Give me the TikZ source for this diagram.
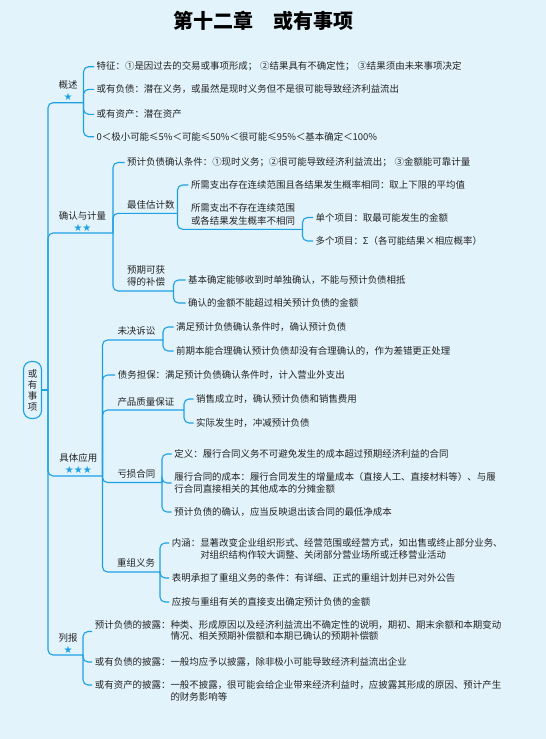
\documentclass[tikz,border=0pt]{standalone}
\usepackage{fontspec}
\setmainfont{Noto Sans CJK SC}
\newfontfamily\symfont{DejaVu Sans}
\usetikzlibrary{calc}
\definecolor{bgblue}{RGB}{226,243,251}
\definecolor{branch}{RGB}{30,160,228}
\definecolor{ink}{RGB}{35,35,35}
\newcommand{\gap}{\hspace{0.3em}}
\tikzset{
  leaf/.style={anchor=west, inner xsep=2.5pt, inner ysep=1pt, text=ink, align=left,
    font=\fontsize{9.45}{11.5}\selectfont},
  topic/.style={inner sep=1pt, text=ink, align=left, font=\fontsize{9.45}{12.5}\selectfont},
  starmark/.style={inner sep=0pt, text=branch, font=\symfont\fontsize{10}{10}\selectfont},
  link/.style={draw=branch, line width=1.1pt, rounded corners=5pt},
}

\begin{document}
\begin{tikzpicture}[x=1pt, y=-1pt]
    \useasboundingbox (0,0) rectangle (546,739);
    \fill[bgblue] (0,0) rectangle (546,739);

    % title
    \node[font=\fontsize{20}{20}\selectfont\bfseries, text=black] (title) at (263,21) {第十二章　或有事项};

    % root
    \node[draw=branch, line width=1.1pt, rounded corners=8pt, fill=bgblue, inner sep=0pt,
      minimum width=18pt, minimum height=57pt, text=ink, align=center,
      font=\fontsize{9.45}{11}\selectfont] (root) at (32.5,390) {或\\有\\事\\项};
    \coordinate (trunk) at (48,390);
    \draw[link] (root.east) -- (trunk);

    % gaishu
    \node[topic] (gs) at (68,85) {概述};
    \node[starmark] (gs-s) at (68,97) {★};
    \coordinate (gs-j) at (83.5,102.7);
    \draw[link] (trunk) |- (gs-j);
    \node[leaf] (gs-1) at (94,66.7) {特征：①是因过去的交易或事项形成；\gap{}②结果具有不确定性；\gap{}③结果须由未来事项决定};
    \node[leaf] (gs-2) at (94,89.3) {或有负债：潜在义务，或虽然是现时义务但不是很可能导致经济利益流出};
    \node[leaf] (gs-3) at (94,114.3) {或有资产：潜在资产};
    \node[leaf] (gs-4) at (94,136.7) {0＜极小可能≤5\%＜可能≤50\%＜很可能≤95\%＜基本确定＜100\%};
    \foreach \k in {1,...,4}
      \draw[link] (gs-j) |- (gs-\k.west);

    % queren yu jiliang
    \node[topic] (qr) at (82.5,216) {确认与计量};
    \node[starmark] (qr-s) at (82.5,227.5) {★★};
    \coordinate (qr-j) at (113,233);
    \draw[link] (trunk) |- (qr-j);
    \node[leaf] (qr-1) at (124.5,162.5) {预计负债确认条件：①现时义务；②很可能导致经济利益流出；\gap{}③金额能可靠计量};
    \draw[link] (qr-j) |- (qr-1.west);

    \node[topic, anchor=west] (zj) at (126,205) {最佳估计数};
    \coordinate (zj-j) at (177.5,213.3);
    \draw[link] (qr-j) |- (zj-j);
    \node[leaf] (zj-1) at (188.3,185) {所需支出存在连续范围且各结果发生概率相同：取上下限的平均值};
    \draw[link] (zj-j) |- (zj-1.west);
    \node[topic, anchor=west] (zj-2) at (189.8,214.5) {所需支出不存在连续范围\\或各结果发生概率不相同};
    \coordinate (zj2-j) at (302.5,229.3);
    \draw[link] (zj-j) |- (zj2-j);
    \node[leaf] (dx-1) at (313,217.5) {单个项目：取最可能发生的金额};
    \node[leaf] (dx-2) at (313,241) {多个项目：Σ（各可能结果×相应概率）};
    \foreach \k in {1,2}
      \draw[link] (zj2-j) |- (dx-\k.west);

    \node[topic, anchor=west] (bc) at (126,276) {预期可获\\得的补偿};
    \coordinate (bc-j) at (173.5,291);
    \draw[link] (qr-j) |- (bc-j);
    \node[leaf] (bc-1) at (185.5,280) {基本确定能够收到时单独确认，不能与预计负债相抵};
    \node[leaf] (bc-2) at (185.5,303) {确认的金额不能超过相关预计负债的金额};
    \foreach \k in {1,2}
      \draw[link] (bc-j) |- (bc-\k.west);

    % juti yingyong
    \node[topic] (jt) at (78.3,458) {具体应用};
    \node[starmark] (jt-s) at (78.3,470) {★★★};
    \coordinate (jt-j) at (102.5,476);
    \draw[link] (trunk) |- (jt-j);

    \node[topic, anchor=west] (wj) at (116.3,331) {未决诉讼};
    \coordinate (wj-j) at (163,340);
    \draw[link] (jt-j) |- (wj-j);
    \node[leaf] (wj-1) at (173.5,327) {满足预计负债确认条件时，确认预计负债};
    \node[leaf] (wj-2) at (173.5,351) {前期本能合理确认预计负债却没有合理确认的，作为差错更正处理};
    \foreach \k in {1,2}
      \draw[link] (wj-j) |- (wj-\k.west);

    \node[leaf] (zw) at (115.2,375) {债务担保：满足预计负债确认条件时，计入营业外支出};
    \draw[link] (jt-j) |- (zw.west);

    \node[topic, anchor=west] (cp) at (116.3,402) {产品质量保证};
    \coordinate (cp-j) at (184,410);
    \draw[link] (jt-j) |- (cp-j);
    \node[leaf] (cp-1) at (193.5,399) {销售成立时，确认预计负债和销售费用};
    \node[leaf] (cp-2) at (193.5,423) {实际发生时，冲减预计负债};
    \foreach \k in {1,2}
      \draw[link] (cp-j) |- (cp-\k.west);

    \node[topic, anchor=west] (ks) at (116.3,474) {亏损合同};
    \coordinate (ks-j) at (162,482.5);
    \draw[link] (jt-j) |- (ks-j);
    \node[leaf] (ks-1) at (171.7,454) {定义：履行合同义务不可避免发生的成本超过预期经济利益的合同};
    \node[leaf] (ks-2) at (171.7,483) {履行合同的成本：履行合同发生的增量成本（直接人工、直接材料等）、与履\\行合同直接相关的其他成本的分摊金额};
    \node[leaf] (ks-3) at (171.7,512) {预计负债的确认，应当反映退出该合同的最低净成本};
    \foreach \k in {1,2,3}
      \draw[link] (ks-j) |- (ks-\k.west);

    \node[topic, anchor=west] (cz) at (116,563) {重组义务};
    \coordinate (cz-j) at (160,572);
    \draw[link] (jt-j) |- (cz-j);
    \node[leaf, anchor=base west] (cz-1) at (169.2,546.5) {\begin{tabular}[t]{@{}l@{}l@{}}内涵：&显著改变企业组织形式、经营范围或经营方式，如出售或终止部分业务、\\&对组织结构作较大调整、关闭部分营业场所或迁移营业活动\end{tabular}};
    \node[leaf] (cz-2) at (169.2,578) {表明承担了重组义务的条件：有详细、正式的重组计划并已对外公告};
    \node[leaf] (cz-3) at (169.2,602) {应按与重组有关的直接支出确定预计负债的金额};
    \draw[link] (cz-j) |- ([yshift=3.5pt]cz-1.base west);
    \foreach \k in {2,3}
      \draw[link] (cz-j) |- (cz-\k.west);

    % liebao
    \node[topic] (lb) at (68,638) {列报};
    \node[starmark] (lb-s) at (68,650) {★};
    \coordinate (lb-j) at (83,655);
    \draw[link] (trunk) |- (lb-j);
    \node[leaf] (lb-1) at (92.2,631.5) {\begin{tabular}{@{}l@{}l@{}}预计负债的披露：&种类、形成原因以及经济利益流出不确定性的说明，期初、期末余额和本期变动\\&情况、相关预期补偿额和本期已确认的预期补偿额\end{tabular}};
    \node[leaf] (lb-2) at (92.2,662) {或有负债的披露：一般均应予以披露，除非极小可能导致经济利益流出企业};
    \node[leaf, anchor=base west] (lb-3) at (92.2,688.5) {\begin{tabular}[t]{@{}l@{}l@{}}或有资产的披露：&一般不披露，很可能会给企业带来经济利益时，应披露其形成的原因、预计产生\\&的财务影响等\end{tabular}};
    \foreach \k in {1,2}
      \draw[link] (lb-j) |- (lb-\k.west);
    \draw[link] (lb-j) |- ([yshift=3.5pt]lb-3.base west);
  \end{tikzpicture}
\end{document}
